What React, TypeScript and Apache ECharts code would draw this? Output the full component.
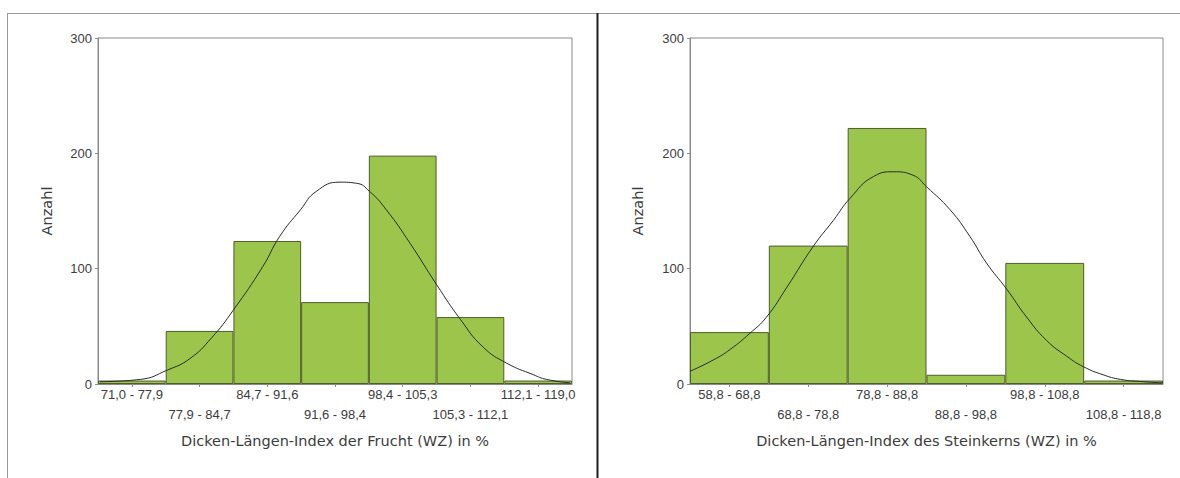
import React, { useEffect, useRef } from "react";
import * as echarts from "echarts";

const leftCategories = ["71,0 - 77,9", "77,9 - 84,7", "84,7 - 91,6", "91,6 - 98,4", "98,4 - 105,3", "105,3 - 112,1", "112,1 - 119,0"];
const leftCounts = [3, 46, 124, 71, 198, 58, 3];
const leftCurveX = [71.2, 75.3, 78.0, 80.3, 82.5, 84.7, 87.7, 89.4, 91.5, 93.1, 95.5, 97.2, 98.5, 100.2, 102.6, 105.3, 107.7, 110.0, 112.4, 115.1, 116.4, 118.8];
const leftCurveY = [2, 4, 12, 22, 40, 64, 102, 128, 151, 167, 175, 174, 167, 151, 122, 86, 56, 32, 18, 8, 4, 1];

const rightCategories = ["58,8 - 68,8", "68,8 - 78,8", "78,8 - 88,8", "88,8 - 98,8", "98,8 - 108,8", "108,8 - 118,8"];
const rightCounts = [45, 120, 222, 8, 105, 3];
const rightCurveX = [58.8, 61.8, 63.9, 66.4, 68.5, 71.1, 74.4, 77.0, 79.1, 82.1, 84.6, 87.1, 88.8, 91.8, 94.3, 96.4, 99.0, 101.5, 104.0, 106.6, 108.7, 111.2, 113.4, 116.3, 118.8];
const rightCurveY = [11, 21, 30, 44, 58, 84, 119, 142, 161, 180, 184, 181, 171, 151, 128, 105, 82, 58, 38, 24, 15, 8, 4, 2, 1];

const yTicks = [0, 100, 200, 300];
const leftTitle = "Dicken-Längen-Index der Frucht (WZ) in %";
const rightTitle = "Dicken-Längen-Index des Steinkerns (WZ) in %";
const yTitle = "Anzahl";

const FONT = "Liberation Sans, Arial, sans-serif";
const NAME_FONT = "DejaVu Sans, Verdana, sans-serif";
const TXT = "#3c3c3c";
const GREEN = "#9cc54b";
const BAR_BORDER = "#4f5c2c";

export default function App() {
  const ref = useRef<HTMLDivElement>(null);
  useEffect(() => {
    if (!ref.current) return;
    const chart = echarts.init(ref.current, undefined, { renderer: "svg" });

    const catAxis = (gridIndex: number, cats: string[], title: string) => ({
      type: "category",
      gridIndex,
      data: cats,
      boundaryGap: true,
      axisLine: { show: true, lineStyle: { color: "#8a8a8a", width: 1 } },
      axisTick: { show: true, alignWithLabel: true, length: 3, lineStyle: { color: "#8a8a8a" } },
      axisLabel: {
        interval: 0,
        margin: 0,
        fontSize: 13,
        lineHeight: 20,
        color: TXT,
        fontFamily: FONT,
        formatter: (v: string, i: number) => (i % 2 === 1 ? "\n" + v : v),
      },
      name: title,
      nameLocation: "middle",
      nameGap: 49,
      nameTextStyle: { fontSize: 14.5, color: TXT, fontFamily: NAME_FONT },
    });
    const valAxis = (gridIndex: number, min: number, max: number) => ({
      type: "value",
      gridIndex,
      min,
      max,
      show: false,
    });
    const yAxis = (gridIndex: number, gap: number) => ({
      type: "value",
      gridIndex,
      min: yTicks[0],
      max: yTicks[yTicks.length - 1],
      interval: 100,
      splitLine: { show: false },
      axisLine: { show: true, lineStyle: { color: "#8a8a8a" } },
      axisTick: { show: true, length: 3, lineStyle: { color: "#8a8a8a" } },
      axisLabel: { fontSize: 13, color: TXT, fontFamily: FONT, margin: 6 },
      name: yTitle,
      nameLocation: "middle",
      nameGap: gap,
      nameRotate: 90,
      nameTextStyle: { fontSize: 14.5, color: TXT, fontFamily: NAME_FONT },
    });

    const option = {
      animation: false,
      backgroundColor: "#ffffff",
      grid: [
        { left: 98, right: 608, top: 38, height: 346, show: true, borderColor: "#8a8a8a", borderWidth: 1, backgroundColor: "transparent" },
        { left: 690, right: 17, top: 38, height: 346, show: true, borderColor: "#8a8a8a", borderWidth: 1, backgroundColor: "transparent" },
      ],
      xAxis: [
        catAxis(0, leftCategories, leftTitle),
        valAxis(0, 71.0, 119.0),
        catAxis(1, rightCategories, rightTitle),
        valAxis(1, 58.8, 118.8),
      ],
      yAxis: [yAxis(0, 44), yAxis(1, 45)],
      series: [
        {
          type: "bar",
          xAxisIndex: 0,
          yAxisIndex: 0,
          data: leftCounts,
          barWidth: "100%",
          barCategoryGap: 0,
          itemStyle: { color: GREEN, borderColor: BAR_BORDER, borderWidth: 1 },
        },
        {
          type: "line",
          xAxisIndex: 1,
          yAxisIndex: 0,
          data: leftCurveX.map((x, i) => [x, leftCurveY[i]]),
          smooth: true,
          showSymbol: false,
          lineStyle: { color: "#2a2a2a", width: 1 },
          z: 5,
        },
        {
          type: "bar",
          xAxisIndex: 2,
          yAxisIndex: 1,
          data: rightCounts,
          barWidth: "100%",
          barCategoryGap: 0,
          itemStyle: { color: GREEN, borderColor: BAR_BORDER, borderWidth: 1 },
        },
        {
          type: "line",
          xAxisIndex: 3,
          yAxisIndex: 1,
          data: rightCurveX.map((x, i) => [x, rightCurveY[i]]),
          smooth: true,
          showSymbol: false,
          lineStyle: { color: "#2a2a2a", width: 1 },
          z: 5,
        },
      ],
      graphic: [
        { type: "line", shape: { x1: 7, y1: 13.5, x2: 1180, y2: 13.5 }, style: { stroke: "#9a9a9a", lineWidth: 1 } },
        { type: "line", shape: { x1: 7.5, y1: 13, x2: 7.5, y2: 478 }, style: { stroke: "#9a9a9a", lineWidth: 1 } },
        { type: "line", shape: { x1: 597.5, y1: 13, x2: 597.5, y2: 478 }, style: { stroke: "#1e1e1e", lineWidth: 2 } },
      ],
    };
    chart.setOption(option as any);
    return () => chart.dispose();
  }, []);
  return <div ref={ref} style={{ position: "fixed", left: 0, top: 0, width: 1180, height: 478 }} />;
}
